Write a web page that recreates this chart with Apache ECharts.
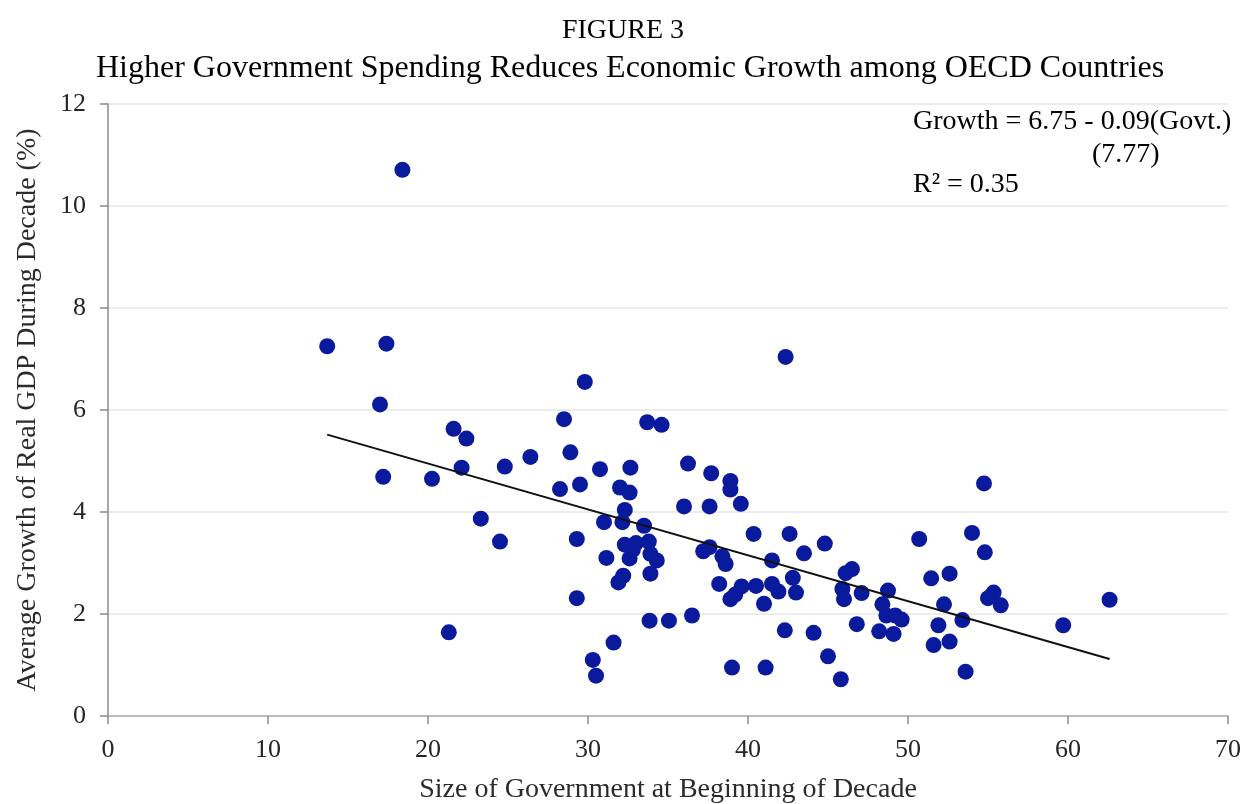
<!DOCTYPE html>
<html>
<head>
<meta charset="utf-8">
<title>FIGURE 3</title>
<script src="https://cdn.jsdelivr.net/npm/echarts@6/dist/echarts.min.js"></script>
<style>
  html, body { margin: 0; padding: 0; background: #ffffff; }
  #chart { width: 1246px; height: 804px; }
</style>
</head>
<body>
<div id="chart"></div>
<script>
// Size of government (% of GDP) at the beginning of each decade
const govtSize = [
  13.7, 17.0, 17.4, 17.2, 18.4, 20.25, 21.3, 21.6, 22.1, 22.4,
  23.3, 24.5, 24.8, 26.4, 28.25, 28.5, 28.9, 29.3, 29.3, 29.5,
  29.8, 30.3, 30.5, 30.75, 31.0, 31.15, 31.6, 31.9, 32.0, 32.2,
  32.15, 32.3, 32.3, 32.6, 32.65, 32.6, 32.8, 33.0, 33.5, 33.7,
  33.8, 33.9, 33.9, 33.85, 34.3, 34.6, 35.06, 36.0, 36.25, 36.5,
  37.2, 37.6, 37.6, 37.7, 38.2, 38.4, 38.6, 38.9, 38.9, 38.9,
  39.0, 39.2, 39.55, 39.6, 40.35, 40.5, 41.0, 41.1, 41.5, 41.5,
  41.9, 42.3, 42.35, 42.6, 42.8, 43.0, 43.5, 44.1, 44.8, 45.0,
  45.8, 45.9, 46.0, 46.1, 46.5, 46.8, 47.1, 48.2, 48.4, 48.75,
  48.65, 49.1, 49.2, 49.6, 50.7, 51.45, 51.6, 51.9, 52.25, 52.6,
  52.6, 53.4, 53.6, 54.0, 54.75, 54.8, 55.0, 55.35, 55.8, 59.7,
  62.6
];

// Average growth of real GDP during the decade (%)
const gdpGrowth = [
  7.25, 6.11, 7.30, 4.69, 10.71, 4.65, 1.64, 5.63, 4.87, 5.44,
  3.87, 3.42, 4.89, 5.08, 4.45, 5.82, 5.17, 3.47, 2.31, 4.54,
  6.55, 1.10, 0.79, 4.84, 3.80, 3.10, 1.44, 2.62, 4.48, 2.75,
  3.80, 4.04, 3.36, 4.38, 4.87, 3.09, 3.26, 3.39, 3.73, 5.76,
  3.42, 3.18, 2.79, 1.87, 3.05, 5.71, 1.87, 4.11, 4.95, 1.97,
  3.23, 3.31, 4.11, 4.76, 2.59, 3.13, 2.98, 4.61, 4.44, 2.29,
  0.95, 2.38, 4.16, 2.54, 3.57, 2.55, 2.20, 0.95, 3.05, 2.59,
  2.44, 1.68, 7.04, 3.57, 2.71, 2.42, 3.19, 1.63, 3.38, 1.17,
  0.72, 2.49, 2.29, 2.80, 2.88, 1.80, 2.41, 1.66, 2.19, 2.46,
  1.97, 1.61, 1.97, 1.89, 3.47, 2.70, 1.39, 1.78, 2.19, 2.79,
  1.46, 1.88, 0.87, 3.59, 4.56, 3.21, 2.31, 2.42, 2.17, 1.78,
  2.28
];

// Fitted regression: Growth = 6.75 - 0.09(Govt.)
const fitIntercept = 6.75;
const fitSlope = -0.09;

// Axis tick values
const xTicks = [0, 10, 20, 30, 40, 50, 60, 70];
const yTicks = [0, 2, 4, 6, 8, 10, 12];

const points = govtSize.map((g, i) => [g, gdpGrowth[i]]);
const xLo = Math.min(...govtSize);
const xHi = Math.max(...govtSize);
const fitLine = [
  [xLo, fitIntercept + fitSlope * xLo],
  [xHi, fitIntercept + fitSlope * xHi]
];

const serif = '"Liberation Serif", "Times New Roman", serif';
const chart = echarts.init(document.getElementById('chart'), null, { renderer: 'canvas' });

chart.setOption({
  backgroundColor: '#ffffff',
  animation: false,
  title: [
    {
      text: 'FIGURE 3',
      left: 'center',
      top: 12,
      textStyle: { fontFamily: serif, fontSize: 28, fontWeight: 'normal', color: '#000' }
    },
    {
      text: 'Higher Government Spending Reduces Economic Growth among OECD Countries',
      left: 96,
      top: 53,
      padding: 0,
      textStyle: { fontFamily: serif, fontSize: 32, fontWeight: 'normal', color: '#000' }
    }
  ],
  grid: {
    left: 108, right: 18, top: 104, bottom: 88,
    containLabel: false,
    outerBoundsMode: 'none'
  },
  xAxis: {
    type: 'value',
    min: xTicks[0],
    max: xTicks[xTicks.length - 1],
    interval: xTicks[1] - xTicks[0],
    name: 'Size of Government at Beginning of Decade',
    nameLocation: 'middle',
    nameGap: 60,
    nameTextStyle: { fontFamily: serif, fontSize: 28, color: '#2b2b2b' },
    axisLine: { show: true, lineStyle: { color: '#bdbdbd', width: 2 } },
    axisTick: { show: true, length: 8, lineStyle: { color: '#8a8a8a', width: 1.5 } },
    axisLabel: { fontFamily: serif, fontSize: 26, color: '#262626', margin: 21 },
    splitLine: { show: false }
  },
  yAxis: {
    type: 'value',
    min: yTicks[0],
    max: yTicks[yTicks.length - 1],
    interval: yTicks[1] - yTicks[0],
    name: 'Average Growth of Real GDP During Decade (%)',
    nameLocation: 'middle',
    nameGap: 66,
    nameTextStyle: { fontFamily: serif, fontSize: 28, color: '#2b2b2b' },
    axisLine: { show: true, lineStyle: { color: '#8a8a8a', width: 1.5 } },
    axisTick: { show: true, length: 8, lineStyle: { color: '#8a8a8a', width: 1.5 } },
    axisLabel: { fontFamily: serif, fontSize: 26, color: '#262626', margin: 22 },
    splitLine: { show: true, lineStyle: { color: '#e6e6e6', width: 1.5 } }
  },
  series: [
    {
      type: 'scatter',
      data: points,
      symbol: 'circle',
      symbolSize: 16,
      itemStyle: { color: '#0a1a9c', opacity: 1 },
      z: 3
    },
    {
      type: 'line',
      data: fitLine,
      showSymbol: false,
      symbol: 'none',
      lineStyle: { color: '#111', width: 2 },
      z: 4
    }
  ],
  graphic: [
    {
      type: 'text',
      left: 913,
      top: 108,
      style: { text: 'Growth = 6.75 - 0.09(Govt.)', font: '28px ' + serif, fill: '#000' }
    },
    {
      type: 'text',
      left: 1092,
      top: 141,
      style: { text: '(7.77)', font: '28px ' + serif, fill: '#000' }
    },
    {
      type: 'text',
      left: 913,
      top: 171,
      style: { text: 'R\u00b2 = 0.35', font: '28px ' + serif, fill: '#000' }
    }
  ]
});
</script>
</body>
</html>
